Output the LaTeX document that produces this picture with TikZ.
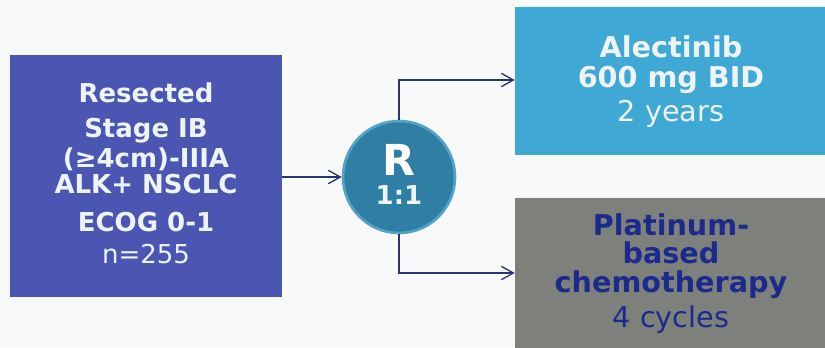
\documentclass[tikz,border=0pt]{standalone}
\usepackage{fontspec}
\setmainfont{DejaVu Sans}
\usetikzlibrary{arrows.meta}
\definecolor{bgc}{HTML}{F8FAFA}
\definecolor{popblue}{HTML}{4A56B2}
\definecolor{armblue}{HTML}{3FA8D4}
\definecolor{armgray}{HTML}{7D807B}
\definecolor{randc}{HTML}{2F7FA4}
\definecolor{randedge}{HTML}{55A4C8}
\definecolor{linec}{HTML}{2B3470}
\definecolor{navytxt}{HTML}{1C2A8C}
\definecolor{softwhite}{HTML}{EEF3F6}
\tikzset{
  boxshape/.style={draw=none, rectangle, inner sep=0pt},
  txt/.style={anchor=base, inner sep=0pt, text=softwhite},
  bigb/.style={txt, font=\fontsize{19.5}{20}\selectfont\bfseries},
  bigr/.style={txt, font=\fontsize{19.5}{20}\selectfont},
  armb/.style={anchor=base, inner sep=0pt, font=\fontsize{21.5}{22}\selectfont\bfseries},
  armr/.style={anchor=base, inner sep=0pt, font=\fontsize{21.5}{22}\selectfont},
  conn/.style={draw=linec, line width=1.2pt, -{Straight Barb[length=9pt,width=10pt,line width=1pt]}},
}
\begin{document}
\begin{tikzpicture}[x=0.75pt,y=-0.75pt]
  % canvas
  \fill[bgc] (0,0) rectangle (825,347);
  \useasboundingbox (0,0) rectangle (825,347);

  % population box
  \node[boxshape, fill=popblue, minimum width=204pt, minimum height=181.5pt] (pop) at (146,176) {};
  \node[bigb] (p1) at (146,102) {Resected};
  \node[bigb] (p2) at (146,137) {Stage IB};
  \node[bigb] (p3) at (146,167) {(≥4cm)-IIIA};
  \node[bigb] (p4) at (146,193) {ALK+ NSCLC};
  \node[bigb] (p5) at (146,231) {ECOG 0-1};
  \node[bigr] (p6) at (146,263) {n=255};

  % randomisation circle
  \node[circle, fill=randc, draw=randedge, line width=2pt, minimum size=84pt, inner sep=0pt] (rand) at (399,177) {};
  \node[txt, font=\fontsize{32}{32}\selectfont\bfseries, text=white] (rr) at (399,175) {R};
  \node[txt, font=\fontsize{19.5}{20}\selectfont\bfseries] (ratio) at (399,204) {1:1};

  % treatment arms
  \node[boxshape, fill=armblue, minimum width=232.5pt, minimum height=111pt] (alec) at (670,80.5) {};
  \node[armb, text=softwhite] (a1) at (671,57) {Alectinib};
  \node[armb, text=softwhite] (a2) at (671,87) {600 mg BID};
  \node[armr, text=softwhite] (a3) at (671,121) {2 years};

  \node[boxshape, fill=armgray, minimum width=232.5pt, minimum height=115pt] (chemo) at (670,274.5) {};
  \node[armb, text=navytxt] (c1) at (671,235) {Platinum-};
  \node[armb, text=navytxt] (c2) at (671,263) {based};
  \node[armb, text=navytxt] (c3) at (671,292) {chemotherapy};
  \node[armr, text=navytxt] (c4) at (671,327) {4 cycles};

  % connectors
  \coordinate (upturn) at (rand.north |- 0,80);
  \coordinate (downturn) at (rand.south |- 0,273);
  \draw[conn] (pop.east |- rand.west) -- (rand.west);
  \draw[conn] (rand.north) -- (upturn) -- (upturn -| alec.west);
  \draw[conn] (rand.south) -- (downturn) -- (downturn -| chemo.west);
\end{tikzpicture}
\end{document}
